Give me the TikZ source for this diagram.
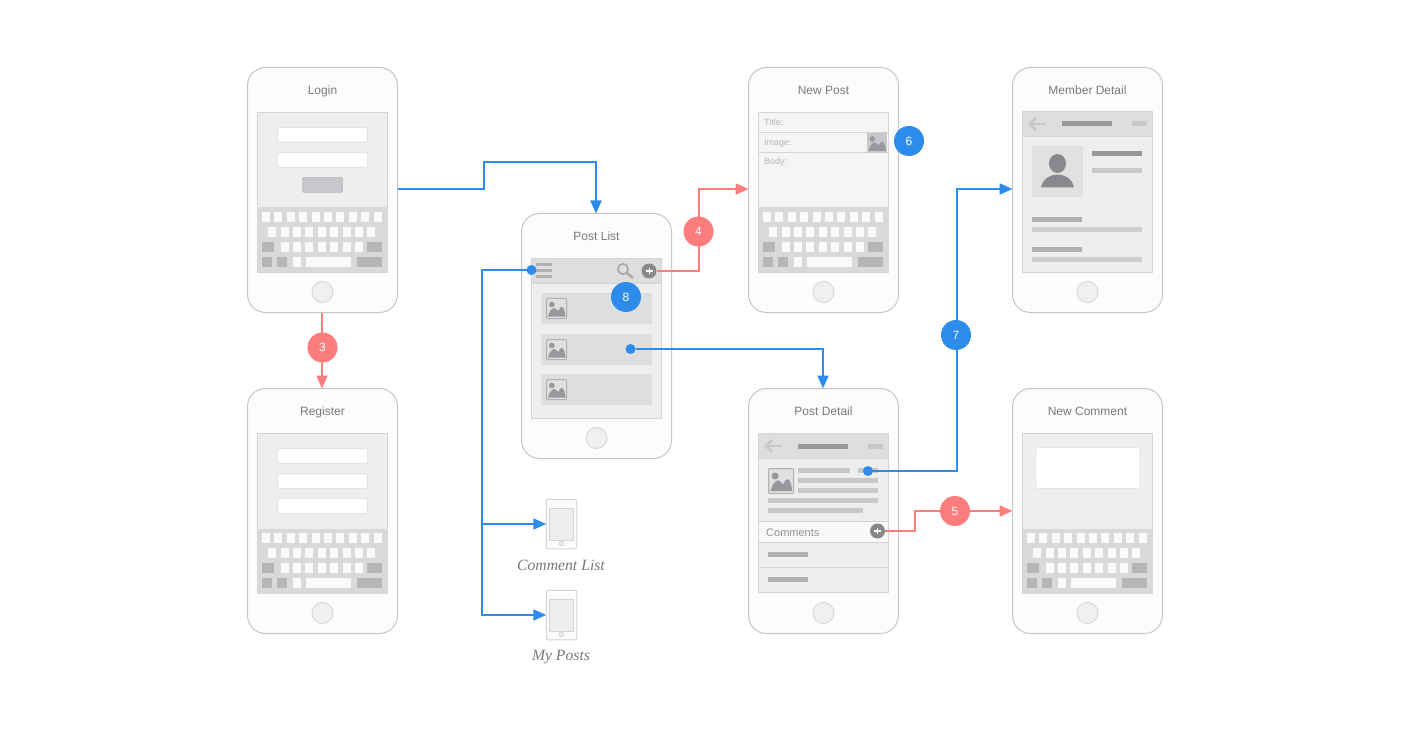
\documentclass[tikz,border=0pt]{standalone}
\usepackage{fontspec}
\setmainfont{Liberation Sans}
\newfontfamily\captionfont{Liberation Serif}
\usetikzlibrary{arrows.meta}

\definecolor{flowblue}{HTML}{2D8CEB}
\definecolor{flowred}{HTML}{FD7C7C}
\definecolor{shell}{HTML}{C6C6C6}
\definecolor{shellfill}{HTML}{FCFCFE}
\definecolor{screenfill}{HTML}{EEEEEE}
\definecolor{screenline}{HTML}{D4D4D4}
\definecolor{kbdfill}{HTML}{D9D9D9}
\definecolor{kbdkey}{HTML}{FAFAFA}
\definecolor{kbddark}{HTML}{B6B6B6}
\definecolor{headfill}{HTML}{DEDEDE}
\definecolor{bardark}{HTML}{98989C}
\definecolor{barmid}{HTML}{B0B0B4}
\definecolor{barlight}{HTML}{C8C8CC}
\definecolor{labelgrey}{HTML}{7A7A7A}
\definecolor{homefill}{HTML}{F0EFF1}

\tikzset{
  phone/.style={draw=shell,fill=shellfill,rounded corners=18pt,minimum width=150pt,minimum height=245pt,inner sep=0pt,outer sep=0pt,line width=1pt},
  homebtn/.style={draw=kbdfill,fill=homefill,line width=1pt},
  screenbox/.style={draw=screenline,fill=screenfill,line width=1pt},
  inputbox/.style={draw=kbdfill!70!white,fill=white,rounded corners=1.5pt,line width=1pt},
  phonetitle/.style={text=labelgrey,font=\fontsize{12}{14}\selectfont,anchor=base,inner sep=0pt},
  smalltext/.style={text=#1,font=\fontsize{9}{11}\selectfont,anchor=base west,inner sep=0pt},
  caption/.style={text=labelgrey,font=\captionfont\itshape\fontsize{15.7}{18}\selectfont,anchor=base,inner sep=0pt},
  flow/.style={draw=flowblue,line width=2pt,-{Triangle[length=13pt,width=11pt]}},
  flowr/.style={draw=flowred,line width=2pt,-{Triangle[length=13pt,width=11pt]}},
  badgeb/.style={circle,fill=flowblue,text=white,minimum size=30pt,inner sep=0pt,font=\fontsize{12}{14}\selectfont},
  badger/.style={circle,fill=flowred,text=white,minimum size=30pt,inner sep=0pt,font=\fontsize{12}{14}\selectfont},
  startdot/.style={circle,fill=flowblue,minimum size=10pt,inner sep=0pt,outer sep=0pt},
  plusdot/.style={circle,fill=bardark!90!black,minimum size=15pt,inner sep=0pt,outer sep=0pt},
  imgbox/.style={draw=barmid,fill=screenfill!94!black,rounded corners=1pt,line width=1pt},
  imgflat/.style={fill=barlight},
  minishell/.style={draw=screenline,fill=shellfill,rounded corners=2pt,minimum width=30.5pt,minimum height=49.5pt,inner sep=0pt,outer sep=0pt,line width=1pt}
}

% name, left, top, title
\newcommand{\phonebody}[4]{
  \node[phone] (#1) at (#2+75,#3+122.5) {};
  \node[phonetitle] (#1title) at (#2+75,#3+27) {#4};
  \draw[homebtn] (#2+75,#3+224.5) circle (10.5pt);
}

% left, top of the keyboard
\newcommand{\keyboard}[2]{
  \begin{scope}[shift={(#1,#2)}]
    \fill[kbdfill] (0,0) rectangle (130,65);
    \foreach \i in {0,...,9} \fill[kbdkey] (4.5+12.4*\i,4.3) rectangle ++(8,10.2);
    \foreach \i in {0,...,8} \fill[kbdkey] (10.7+12.4*\i,19.3) rectangle ++(8,10.2);
    \foreach \i in {0,...,6} \fill[kbdkey] (23+12.4*\i,34.3) rectangle ++(8,10.2);
    \fill[kbddark] (4.5,34.3) rectangle ++(12,10.2);
    \fill[kbddark] (109.5,34.3) rectangle ++(15,10.2);
    \fill[kbddark] (4.5,49.3) rectangle ++(10,10.2);
    \fill[kbddark] (19.5,49.3) rectangle ++(10,10.2);
    \fill[kbdkey] (35.5,49.3) rectangle ++(8,10.2);
    \fill[kbdkey] (48.5,49.3) rectangle ++(45,10.2);
    \fill[kbddark] (99.5,49.3) rectangle ++(25,10.2);
  \end{scope}
}

% left, top, scale, box style
\newcommand{\imgicon}[4]{
  \begin{scope}[shift={(#1,#2)},scale=#3]
    \path[#4] (0,0) rectangle (20,20);
    \fill[bardark] (5.3,6) circle (2.8pt);
    \fill[bardark] (1.5,18) .. controls (3,13) and (5,9.5) .. (8,9.5) .. controls (10,9.5) and (10.5,12.5) .. (11.5,12.5) .. controls (12.5,12.5) and (13,8.5) .. (15.3,8.5) .. controls (17.5,8.5) and (18.5,14) .. (19,18) -- cycle;
  \end{scope}
}

% left, top of the header bar
\newcommand{\headerbar}[2]{
  \begin{scope}[shift={(#1,#2)}]
    \path[screenbox,fill=headfill] (0,0) rectangle (130,25);
    \draw[barlight,line width=2.6pt] (23,12.5) -- (9,12.5);
    \draw[barlight,line width=2.6pt] (13.5,6.5) -- (7.5,12.5) -- (13.5,18.5);
    \fill[bardark] (39.5,10) rectangle ++(50,5);
    \fill[barlight] (109.5,10) rectangle ++(15,5);
  \end{scope}
}

\newcommand{\plussign}[1]{
  \draw[white,line width=1.2pt] ([xshift=-3.5pt]#1.center) -- ([xshift=3.5pt]#1.center);
  \draw[white,line width=1pt] ([yshift=-3pt]#1.center) -- ([yshift=3pt]#1.center);
}

\begin{document}
\begin{tikzpicture}[x=1pt,y=-1pt]
\useasboundingbox[fill=white] (0,0) rectangle (1409,730);

% Login
\phonebody{login}{247.5}{67.5}{Login}
\path[screenbox] (257.5,112.5) rectangle (387.5,272.5);
\draw[inputbox] (277.5,127.5) rectangle (367.5,142.5);
\draw[inputbox] (277.5,152.5) rectangle (367.5,167.5);
\draw[draw=kbddark!85!black,fill=barlight,rounded corners=1.5pt] (302.5,177.5) rectangle (342.5,192.5);
\keyboard{257.5}{207.5}

% Register
\phonebody{register}{247.5}{388.5}{Register}
\path[screenbox] (257.5,433.5) rectangle (387.5,593.5);
\draw[inputbox] (277.5,448.5) rectangle (367.5,463.5);
\draw[inputbox] (277.5,473.5) rectangle (367.5,488.5);
\draw[inputbox] (277.5,498.5) rectangle (367.5,513.5);
\keyboard{257.5}{528.5}

% Post List
\phonebody{postlist}{521.5}{213.5}{Post List}
\path[screenbox] (531.5,258.5) rectangle (661.5,418.5);
\path[screenbox,fill=headfill] (531.5,258.5) rectangle (661.5,283.5);
\foreach \y in {263,269,275} \fill[barmid] (536,\y) rectangle ++(16,3);
\draw[bardark!85!white,line width=1.6pt] (623,269) circle (5.2pt);
\draw[bardark!85!white,line width=2.4pt] (627,273) -- (633,278);
\foreach \y in {293.5,334.5,374.5} {
  \draw[draw=screenline,fill=headfill,rounded corners=1pt] (541.5,\y) rectangle ++(110,30);
  \imgicon{546.5}{\y+5}{1}{imgbox}
}
\node[plusdot] (listplus) at (649,271) {};
\plussign{listplus}
\node[startdot] (menudot) at (531.5,270) {};
\node[startdot] (rowdot) at (630.5,349) {};

% New Post
\phonebody{newpost}{748.5}{67.5}{New Post}
\path[screenbox,fill=screenfill!50!shellfill] (758.5,112.5) rectangle (888.5,272.5);
\draw[screenline] (758.5,132.5) -- (888.5,132.5);
\draw[screenline] (758.5,152.5) -- (888.5,152.5);
\node[smalltext=kbddark] (titlefield) at (764,126) {Title:};
\node[smalltext=kbddark] (imagefield) at (764,146) {Image:};
\node[smalltext=kbddark] (bodyfield) at (764,165) {Body:};
\imgicon{867}{133}{1}{imgflat}
\keyboard{758.5}{207.5}

% Post Detail
\phonebody{postdetail}{748.5}{388.5}{Post Detail}
\path[screenbox] (758.5,433.5) rectangle (888.5,592.5);
\headerbar{758.5}{433.5}
\imgicon{768.5}{468.5}{1.25}{imgbox}
\fill[barlight] (798,468) rectangle (850,473);
\fill[barlight] (858,468) rectangle (878,473);
\fill[barlight] (798,478) rectangle (878,483);
\fill[barlight] (798,488) rectangle (878,493);
\fill[barlight] (768,498) rectangle (878,503);
\fill[barlight] (768,508) rectangle (863,513);
\path[screenbox,fill=screenfill!40!white] (758.5,521.5) rectangle (888.5,542.5);
\draw[screenline] (758.5,567.5) -- (888.5,567.5);
\node[smalltext=labelgrey!80!white,font=\fontsize{11}{13}\selectfont] (commentsbar) at (766,536) {Comments};
\fill[barmid] (768,552) rectangle ++(40,5);
\fill[barmid] (768,577) rectangle ++(40,5);
\node[plusdot] (commentplus) at (877.5,531) {};
\plussign{commentplus}
\node[startdot] (authordot) at (868,471) {};

% Member Detail
\phonebody{memberdetail}{1012.5}{67.5}{Member Detail}
\path[screenbox] (1022.5,111.5) rectangle (1152.5,272.5);
\headerbar{1022.5}{111.5}
\draw[draw=screenline,fill=headfill!90!white,rounded corners=1pt] (1032.5,146.5) rectangle (1082.5,196.5);
\fill[bardark!90!black] (1057.5,163.5) ellipse (8.5pt and 9.5pt);
\fill[bardark!90!black] (1041,187.5) .. controls (1043,178) and (1051,174.5) .. (1057.5,174.5) .. controls (1064,174.5) and (1072,178) .. (1074,187.5) -- cycle;
\fill[bardark] (1092,151) rectangle ++(50,5);
\fill[barlight] (1092,168) rectangle ++(50,5);
\fill[barmid] (1032,217) rectangle ++(50,5);
\fill[barlight!90!white] (1032,227) rectangle ++(110,5);
\fill[barmid] (1032,247) rectangle ++(50,5);
\fill[barlight!90!white] (1032,257) rectangle ++(110,5);

% New Comment
\phonebody{newcomment}{1012.5}{388.5}{New Comment}
\path[screenbox] (1022.5,433.5) rectangle (1152.5,593.5);
\draw[inputbox] (1035.5,447.5) rectangle (1140,488.5);
\keyboard{1022.5}{528.5}

% small phones
\node[minishell] (commentlist) at (561.5,524) {};
\path[screenbox] (549.5,508) rectangle (573.5,540);
\draw[homebtn] (561.5,543.5) circle (2.2pt);
\node[caption] (commentcap) at (561,570) {Comment List};
\node[minishell] (myposts) at (561.5,615) {};
\path[screenbox] (549.5,599) rectangle (573.5,631);
\draw[homebtn] (561.5,634.5) circle (2.2pt);
\node[caption] (mypostscap) at (561,660) {My Posts};

% connectors
\coordinate (overlist) at (484,162);
\coordinate (busdown) at (482,524);
\coordinate (upnew) at (699,189);
\coordinate (upmember) at (957,189);
\coordinate (upcomment) at (915,511);
\draw[flow] ([yshift=1pt]login.east) -| (overlist) -| ([xshift=-0.5pt]postlist.north);
\draw[flow] (rowdot) -| ([xshift=-0.5pt]postdetail.north);
\draw[flow] (menudot) -| (busdown) -- (commentlist.west);
\draw[flow] (busdown) |- (myposts.west);
\draw[flow] (authordot) -| (upmember) -- (memberdetail.west |- upmember);
\draw[flowr] ([xshift=-0.5pt]login.south) -- ([xshift=-0.5pt]register.north);
\draw[flowr] (listplus) -| (upnew) -- (newpost.west |- upnew);
\draw[flowr] (commentplus) -| (upcomment) -- (newcomment.west |- upcomment);

% numbers
\node[badger] (badgethree) at (322.5,347.5) {3};
\node[badger] (badgefour) at (698.5,231.5) {4};
\node[badger] (badgefive) at (955,511) {5};
\node[badgeb] (badgesix) at (909,141) {6};
\node[badgeb] (badgeseven) at (956,335) {7};
\node[badgeb] (badgeeight) at (626,297) {8};
\end{tikzpicture}
\end{document}
